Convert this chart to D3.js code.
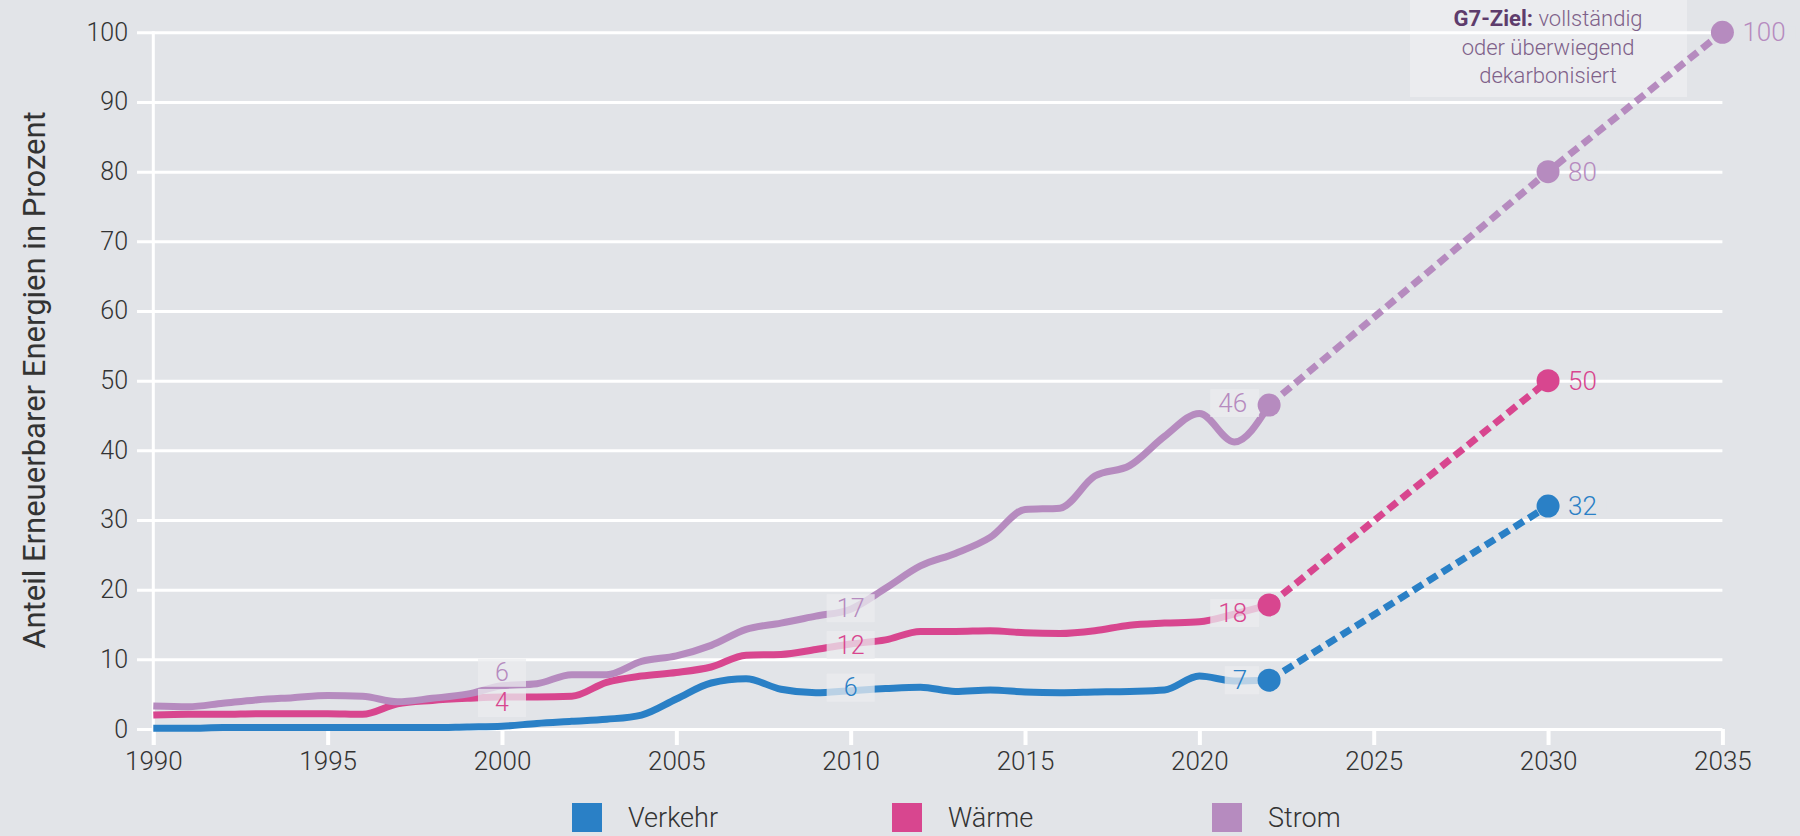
<!DOCTYPE html>
<html>
<head>
<meta charset="utf-8">
<script src="https://cdn.jsdelivr.net/npm/d3@7"></script>
<style>
  html, body { margin: 0; padding: 0; background: #e2e4e8; }
  svg { display: block; font-family: Roboto, "Noto Sans", sans-serif; }
  .tick text { fill: #333; font-family: Roboto, "Noto Sans", sans-serif; font-size: 26px; font-weight: 300; }
</style>
</head>
<body>
<svg id="chart" width="1800" height="836"></svg>
<script>
// yearly shares of renewables
const years = d3.range(1990, 2023);

const verkehr = [0.1, 0.1, 0.2, 0.2, 0.2, 0.2, 0.2, 0.2, 0.2, 0.3,
                 0.4, 0.8, 1.1, 1.4, 2.0, 4.3, 6.6, 7.2, 5.7, 5.2,
                 5.5, 5.8, 6.0, 5.4, 5.6, 5.3, 5.2, 5.3, 5.4, 5.6,
                 7.6, 6.9, 7.0];
const waerme  = [2.0, 2.1, 2.1, 2.2, 2.2, 2.2, 2.1, 3.6, 4.1, 4.4,
                 4.6, 4.6, 4.7, 6.7, 7.6, 8.1, 8.9, 10.6, 10.7, 11.4,
                 12.2, 12.8, 14.0, 14.0, 14.1, 13.8, 13.7, 14.1, 14.9, 15.2,
                 15.4, 16.5, 17.8];
const strom   = [3.3, 3.2, 3.7, 4.2, 4.5, 4.8, 4.7, 3.9, 4.4, 5.0,
                 6.2, 6.5, 7.8, 7.8, 9.7, 10.5, 12.0, 14.3, 15.2, 16.2,
                 17.2, 20.2, 23.4, 25.2, 27.5, 31.5, 31.7, 36.3, 37.8, 42.0,
                 45.3, 41.2, 46.5];

// targets (dashed part), starting at the last measured year
const targetYears = { Verkehr: [2022, 2030], 'Wärme': [2022, 2030], Strom: [2022, 2030, 2035] };
const targetValues = { Verkehr: [7.0, 32], 'Wärme': [17.8, 50], Strom: [46.5, 80, 100] };
const targetLabels = { Verkehr: ['7', '32'], 'Wärme': ['18', '50'], Strom: ['46', '80', '100'] };

// labels sitting on the lines
const midLabels = [
  { series: 'Strom', year: 2000, text: '6' },
  { series: 'Wärme', year: 2000, text: '4' },
  { series: 'Strom', year: 2010, text: '17' },
  { series: 'Wärme', year: 2010, text: '12' },
  { series: 'Verkehr', year: 2010, text: '6' }
];

const seriesNames = ['Verkehr', 'Wärme', 'Strom'];
const seriesValues = { Verkehr: verkehr, 'Wärme': waerme, Strom: strom };
const colors = { Verkehr: '#2a80c6', 'Wärme': '#d8468f', Strom: '#b68bbf' };

const xTicks = d3.range(1990, 2036, 5);
const yTicks = d3.range(0, 101, 10);

const annotationLines = ['vollständig', 'oder überwiegend', 'dekarbonisiert'];

const yAxisLabel = 'Anteil Erneuerbarer Energien in Prozent';

const svg = d3.select('#chart');
const bg = '#e2e4e8';

const xScale = d3.scaleLinear().domain([1990, 2035]).range([153.3, 1722.4]);
const yScale = d3.scaleLinear().domain([0, 100]).range([729, 32.3]);

// horizontal grid (ticks start a little left of the axis)
const gridLeft = 137;
const yAxis = d3.axisLeft(yScale)
  .tickValues(yTicks)
  .tickSize(-(xScale.range()[1] - gridLeft))
  .tickPadding(9);

const yAxisG = svg.append('g')
  .attr('transform', `translate(${gridLeft},0)`)
  .call(yAxis);
yAxisG.select('.domain').remove();
yAxisG.selectAll('.tick line').attr('stroke', '#fff').attr('stroke-width', 3);
yAxisG.selectAll('.tick text').style('font-size', '25px');

// x axis ticks
const xAxis = d3.axisBottom(xScale)
  .tickValues(xTicks)
  .tickFormat(d3.format('d'))
  .tickSize(16)
  .tickPadding(7);

const xAxisG = svg.append('g')
  .attr('transform', `translate(0,${yScale(0)})`)
  .call(xAxis);
xAxisG.select('.domain').remove();
xAxisG.selectAll('.tick line').attr('stroke', '#fff').attr('stroke-width', 4);

// vertical axis line
svg.append('line')
  .attr('x1', xScale(1990)).attr('x2', xScale(1990))
  .attr('y1', yScale(100) - 1).attr('y2', yScale(0) + 16)
  .attr('stroke', '#fff').attr('stroke-width', 3);

svg.append('text')
  .attr('transform', `translate(34,${380}) rotate(-90)`)
  .attr('text-anchor', 'middle')
  .attr('dominant-baseline', 'central')
  .attr('font-size', 31)
  .attr('fill', '#333')
  .text(yAxisLabel);

// annotation box for the G7 target
const noteX = xScale(2030);
svg.append('rect')
  .attr('x', 1410).attr('y', 0)
  .attr('width', 277).attr('height', 97)
  .attr('fill', '#fff').attr('fill-opacity', 0.3);

const note = svg.append('text')
  .attr('text-anchor', 'middle')
  .attr('font-size', 22)
  .attr('fill', '#7e6189')
  .attr('font-weight', 300);
note.append('tspan')
  .attr('x', noteX).attr('y', 26)
  .attr('font-weight', 700).attr('fill', '#5e3c6c')
  .text('G7-Ziel: ');
note.append('tspan').text(annotationLines[0]);
note.append('tspan').attr('x', noteX).attr('y', 55).text(annotationLines[1]);
note.append('tspan').attr('x', noteX).attr('y', 83).text(annotationLines[2]);

// lines
const lineGenerator = d3.line()
  .x(d => xScale(d[0]))
  .y(d => yScale(d[1]))
  .curve(d3.curveMonotoneX);

const dashGenerator = d3.line()
  .x(d => xScale(d[0]))
  .y(d => yScale(d[1]));

const g = svg.append('g');

seriesNames.forEach(name => {
  const pts = years.map((yr, i) => [yr, seriesValues[name][i]]);
  g.append('path')
    .attr('d', lineGenerator(pts))
    .attr('fill', 'none')
    .attr('stroke', colors[name])
    .attr('stroke-width', 7)
    .attr('stroke-linejoin', 'round');

  const tpts = targetYears[name].map((yr, i) => [yr, targetValues[name][i]]);
  g.append('path')
    .attr('d', dashGenerator(tpts))
    .attr('fill', 'none')
    .attr('stroke', colors[name])
    .attr('stroke-width', 7)
    .attr('stroke-dasharray', '11,6');
});

// labels along the lines (semi-transparent boxes over the line)
const midOffset = { 'Strom2000': -13, 'Wärme2000': 6, 'Strom2010': -1, 'Wärme2010': 1, 'Verkehr2010': -3 };
midLabels.forEach(l => {
  const v = seriesValues[l.series][years.indexOf(l.year)];
  const cx = xScale(l.year);
  const cy = yScale(v) + midOffset[l.series + l.year];
  g.append('rect')
    .attr('x', cx - 24).attr('y', cy - 14)
    .attr('width', 48).attr('height', 28)
    .attr('fill', '#ebecef').attr('fill-opacity', 0.75);
});
midLabels.forEach(l => {
  const v = seriesValues[l.series][years.indexOf(l.year)];
  const cx = xScale(l.year);
  const cy = yScale(v) + midOffset[l.series + l.year];
  g.append('text')
    .attr('x', cx).attr('y', cy)
    .attr('text-anchor', 'middle')
    .attr('dominant-baseline', 'central')
    .attr('font-size', 25).attr('font-weight', 300)
    .attr('fill', colors[l.series])
    .text(l.text);
});

// end labels at 2022 and target labels
const endOffset = { Verkehr: 0, 'Wärme': 8, Strom: -2 };
seriesNames.forEach(name => {
  const yrs = targetYears[name];
  const vals = targetValues[name];
  yrs.forEach((yr, i) => {
    const cx = xScale(yr);
    const cy = yScale(vals[i]);
    const txt = targetLabels[name][i];
    if (i === 0) {
      const right = cx - 22;
      const t = g.append('text')
        .attr('x', right).attr('y', cy + endOffset[name])
        .attr('text-anchor', 'end')
        .attr('dominant-baseline', 'central')
        .attr('font-size', 26).attr('font-weight', 300)
        .attr('fill', colors[name])
        .text(txt);
      const w = t.node().getComputedTextLength();
      g.insert('rect', 'text')
        .attr('x', right - w - 8).attr('y', cy + endOffset[name] - 14)
        .attr('width', w + 20).attr('height', 28)
        .attr('fill', '#ebecef').attr('fill-opacity', 0.75);
    } else {
      const left = cx + 20;
      const t = svg.append('text')
        .attr('x', left).attr('y', cy)
        .attr('dominant-baseline', 'central')
        .attr('font-size', 26).attr('font-weight', 300)
        .attr('fill', colors[name])
        .text(txt);
      const w = t.node().getComputedTextLength();
      svg.insert('rect', 'g')
        .attr('x', left - 4).attr('y', cy - 6)
        .attr('width', w + 14).attr('height', 12)
        .attr('fill', bg);
    }
    g.append('circle')
      .attr('cx', cx).attr('cy', cy).attr('r', 11.5)
      .attr('fill', colors[name]);
  });
});

// legend
const legend = svg.append('g').attr('transform', 'translate(572,803)');
seriesNames.forEach((name, i) => {
  const item = legend.append('g').attr('transform', `translate(${i * 320},0)`);
  item.append('rect')
    .attr('width', 30).attr('height', 29)
    .attr('fill', colors[name]);
  item.append('text')
    .attr('x', 56).attr('y', 15)
    .attr('dominant-baseline', 'central')
    .attr('font-size', 27).attr('font-weight', 300)
    .attr('fill', '#333')
    .text(name);
});
</script>
</body>
</html>
